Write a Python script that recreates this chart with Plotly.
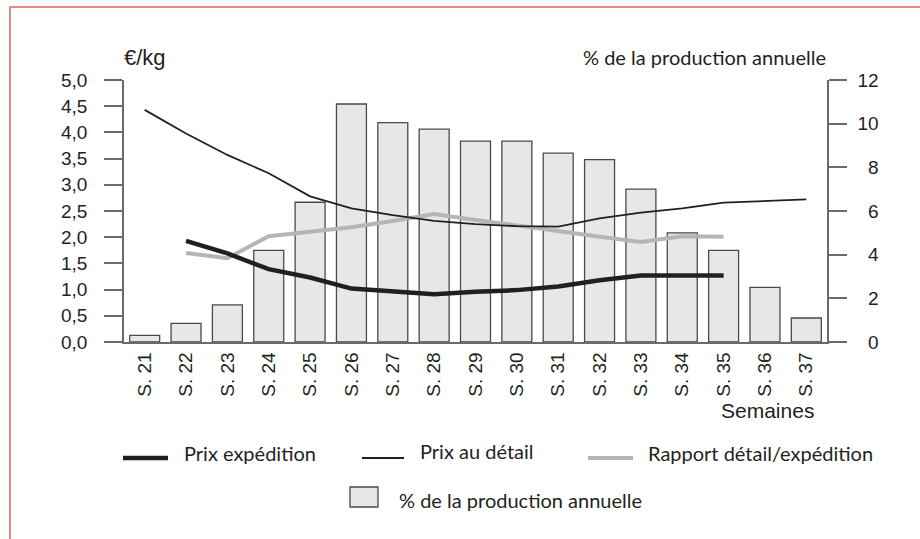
import plotly.graph_objects as go

weeks = ["S. 21", "S. 22", "S. 23", "S. 24", "S. 25", "S. 26", "S. 27", "S. 28", "S. 29",
         "S. 30", "S. 31", "S. 32", "S. 33", "S. 34", "S. 35", "S. 36", "S. 37"]
production_pct = [0.3, 0.85, 1.7, 4.2, 6.4, 10.9, 10.05, 9.75, 9.2, 9.2, 8.65, 8.35, 7.0, 5.0, 4.2, 2.5, 1.1]
prix_detail = [4.43, 3.98, 3.57, 3.22, 2.78, 2.55, 2.42, 2.31, 2.25, 2.21, 2.2, 2.36, 2.47, 2.55, 2.66, 2.69, 2.72]
prix_expedition = [None, 1.93, 1.69, 1.39, 1.23, 1.02, 0.97, 0.91, 0.96, 0.99, 1.06, 1.18, 1.27, 1.28, 1.27, None, None]
rapport = [None, 1.70, 1.60, 2.02, 2.10, 2.19, 2.31, 2.44, 2.33, 2.23, 2.12, 2.01, 1.91, 2.02, 2.01, None, None]

left_ticks = [0, 0.5, 1, 1.5, 2, 2.5, 3, 3.5, 4, 4.5, 5]
right_ticks = [0, 2, 4, 6, 8, 10, 12]
right_ticktext = ["\u20070", "\u20072", "\u20074", "\u20076", "\u20078", "10", "12"]

W, H = 920, 539
L, R, T, B = 124, 827, 80, 342


def px(x):
    return (x - L) / (R - L)


def py(y):
    return (B - y) / (B - T)


AX = "#6a6a6a"
TXT = "#231f20"
SANS = "Liberation Sans, Arial, Helvetica, sans-serif"
HUM = "Lato, Open Sans, sans-serif"
HSIZE = 20

fig = go.Figure()
fig.add_trace(go.Bar(x=weeks, y=production_pct, yaxis="y", name="% de la production annuelle",
                     marker=dict(color="#e6e7e8", line=dict(color="#4a4a4a", width=1.3)),
                     showlegend=False))
fig.add_trace(go.Scatter(x=weeks, y=rapport, yaxis="y2", mode="lines", name="Rapport détail/expédition",
                         line=dict(color="#b5b5b5", width=4), showlegend=False))
fig.add_trace(go.Scatter(x=weeks, y=prix_detail, yaxis="y2", mode="lines", name="Prix au détail",
                         line=dict(color=TXT, width=1.8), showlegend=False))
fig.add_trace(go.Scatter(x=weeks, y=prix_expedition, yaxis="y2", mode="lines", name="Prix expédition",
                         line=dict(color=TXT, width=4.5), showlegend=False))

shapes = [
    # outer frame
    dict(type="rect", xref="paper", yref="paper", x0=px(10), x1=px(930), y0=py(7), y1=py(560),
         line=dict(color="#d9625e", width=1.5), fillcolor="rgba(0,0,0,0)", layer="below"),
    # legend samples
    dict(type="line", xref="paper", yref="paper", x0=px(123), x1=px(168), y0=py(458), y1=py(458),
         line=dict(color=TXT, width=4.5)),
    dict(type="line", xref="paper", yref="paper", x0=px(362), x1=px(404), y0=py(458), y1=py(458),
         line=dict(color=TXT, width=1.8)),
    dict(type="line", xref="paper", yref="paper", x0=px(588), x1=px(633), y0=py(458), y1=py(458),
         line=dict(color="#b5b5b5", width=4)),
    dict(type="rect", xref="paper", yref="paper", x0=px(350), x1=px(378), y0=py(487), y1=py(507),
         line=dict(color="#4a4a4a", width=1.3), fillcolor="#e6e7e8"),
]

annotations = [
    dict(text="€/kg", x=px(145), y=py(58), xref="paper", yref="paper", showarrow=False,
         xanchor="center", yanchor="middle", font=dict(family=SANS, size=22, color=TXT)),
    dict(text="% de la production annuelle", x=px(828), y=py(57), xref="paper", yref="paper",
         showarrow=False, xanchor="right", yanchor="middle", font=dict(family=HUM, size=HSIZE, color=TXT)),
    dict(text="Semaines", x=px(767), y=py(410), xref="paper", yref="paper", showarrow=False,
         xanchor="center", yanchor="middle", font=dict(family=SANS, size=21, color=TXT)),
    dict(text="Prix expédition", x=px(182), y=py(453), xref="paper", yref="paper", showarrow=False,
         xanchor="left", yanchor="middle", font=dict(family=HUM, size=HSIZE, color=TXT)),
    dict(text="Prix au détail", x=px(418), y=py(451), xref="paper", yref="paper", showarrow=False,
         xanchor="left", yanchor="middle", font=dict(family=HUM, size=HSIZE, color=TXT)),
    dict(text="Rapport détail/expédition", x=px(646), y=py(453), xref="paper", yref="paper",
         showarrow=False, xanchor="left", yanchor="middle", font=dict(family=HUM, size=HSIZE, color=TXT)),
    dict(text="% de la production annuelle", x=px(397), y=py(500), xref="paper", yref="paper",
         showarrow=False, xanchor="left", yanchor="middle", font=dict(family=HUM, size=HSIZE, color=TXT)),
]

fig.update_layout(
    width=W, height=H,
    margin=dict(l=L, r=W - R, t=T, b=H - B, pad=0),
    paper_bgcolor="white", plot_bgcolor="white",
    separators=", ",
    bargap=0.275,
    showlegend=False,
    shapes=shapes,
    annotations=annotations,
    xaxis=dict(
        type="category", range=[-0.5, 16.5], showgrid=False, zeroline=False,
        showline=True, linecolor=AX, linewidth=1.5, ticks="", tickangle=-90,
        tickfont=dict(family=SANS, size=19, color=TXT), ticklabelstandoff=1,
    ),
    yaxis=dict(
        side="right", range=[0, 12], tickvals=right_ticks, ticktext=right_ticktext,
        showgrid=False, zeroline=False, showline=True, linecolor=AX, linewidth=1.5,
        ticks="outside", ticklen=18, tickwidth=1.5, tickcolor=AX,
        tickfont=dict(family=SANS, size=19, color=TXT), ticklabelstandoff=7,
    ),
    yaxis2=dict(
        side="left", overlaying="y", range=[0, 5], tickvals=left_ticks, tickformat=".1f",
        showgrid=False, zeroline=False, showline=True, linecolor=AX, linewidth=1.5,
        ticks="outside", ticklen=18, tickwidth=1.5, tickcolor=AX,
        tickfont=dict(family=SANS, size=19, color=TXT), ticklabelstandoff=13,
    ),
)

fig.write_html("out.html", config={"displayModeBar": False},
               post_script="document.body.style.margin='0';document.body.style.overflow='hidden';")
